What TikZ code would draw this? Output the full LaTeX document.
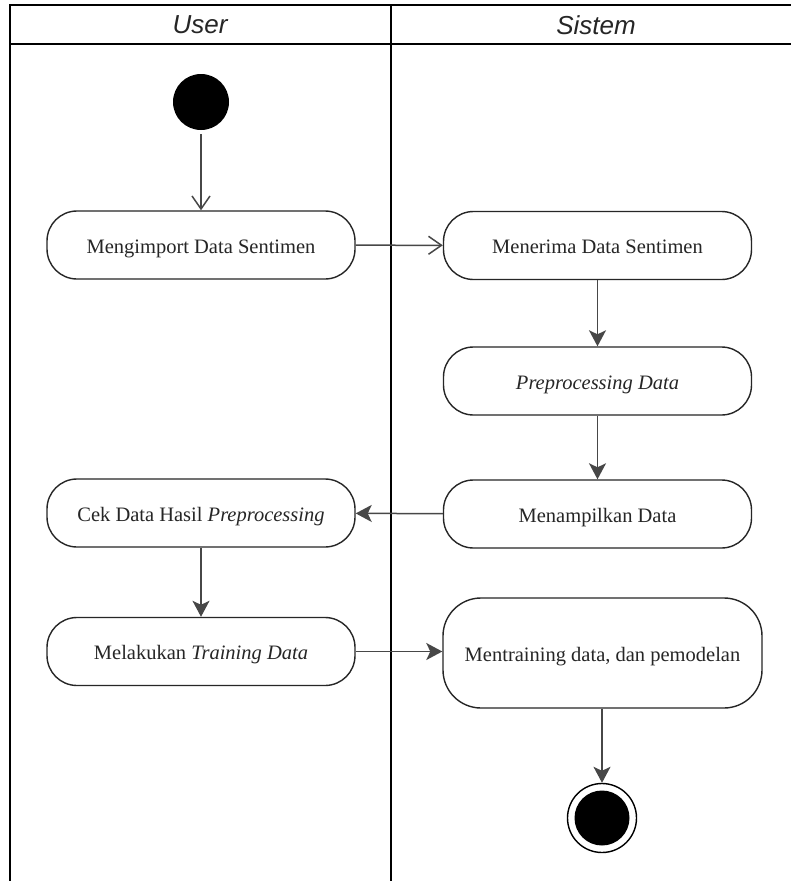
\documentclass[tikz,border=0pt]{standalone}
\usepackage{fontspec}
\setmainfont{Liberation Serif}
\newfontfamily\hdrfont{Liberation Sans}
\usetikzlibrary{arrows.meta}
\begin{document}
\begin{tikzpicture}[x=1pt,y=-1pt,
  act/.style={draw=black!85, line width=1.4pt, rounded corners=30pt, minimum width=308pt, minimum height=68pt, inner sep=0pt, text height=16pt, text depth=0pt, font=\fontsize{20.5}{24}\selectfont, text=black!85},
  conn/.style={draw=black!72, line width=1.5pt},
  filled/.style={conn, -{Stealth[length=16pt,width=17pt,inset=4pt]}},
  openarr/.style={conn, -{Straight Barb[length=13pt,width=18pt,line width=1.5pt]}},
  lane/.style={draw=black, line width=1.6pt},
  hdr/.style={font=\hdrfont\itshape\fontsize{26}{30}\selectfont, text=black!85}]
\useasboundingbox (0,0) rectangle (791,881);
\fill[white] (0,0) rectangle (791,881);
% swimlanes
\draw[lane] (791,5) -- (10,5) -- (10,881);
\draw[lane] (10,44) -- (791,44);
\draw[lane] (391,5) -- (391,881);
\node[hdr] (hu) at (200,25) {User};
\node[hdr] (hs) at (596,25) {Sistem};
% start
\node[circle, fill=black, minimum size=56pt, inner sep=0pt] (start) at (201,102) {};
% activities
\node[act] (n1) at (201,245) {Mengimport Data Sentimen};
\node[act] (n2) at (597.5,245.5) {Menerima Data Sentimen};
\node[act] (n3) at (597.5,381) {\textit{Preprocessing Data}};
\node[act] (n4) at (597.5,514) {Menampilkan Data};
\node[act] (n5) at (201,513) {Cek Data Hasil \textit{Preprocessing}};
\node[act] (n6) at (201,651.5) {Melakukan \textit{Training Data}};
\node[act, minimum width=319pt, minimum height=110pt, rounded corners=38pt] (n7) at (602.5,653) {Mentraining data, dan pemodelan};
% end
\node[circle, draw=black, line width=1.4pt, minimum size=69pt, inner sep=0pt] (end) at (602,818) {};
\node[circle, fill=black, minimum size=55pt, inner sep=0pt] (endin) at (end.center) {};
% connectors
\draw[openarr, shorten <=4pt] (start) -- (n1);
\draw[openarr] (n1) -- (n2);
\draw[filled] (n2) -- (n3);
\draw[filled] (n3) -- (n4);
\draw[filled] (n4) -- (n5);
\draw[filled] (n5) -- (n6);
\draw[filled] (n6.east) -- (n6.east -| n7.west);
\draw[filled] (n7.south -| end) -- (end);
\end{tikzpicture}
\end{document}
